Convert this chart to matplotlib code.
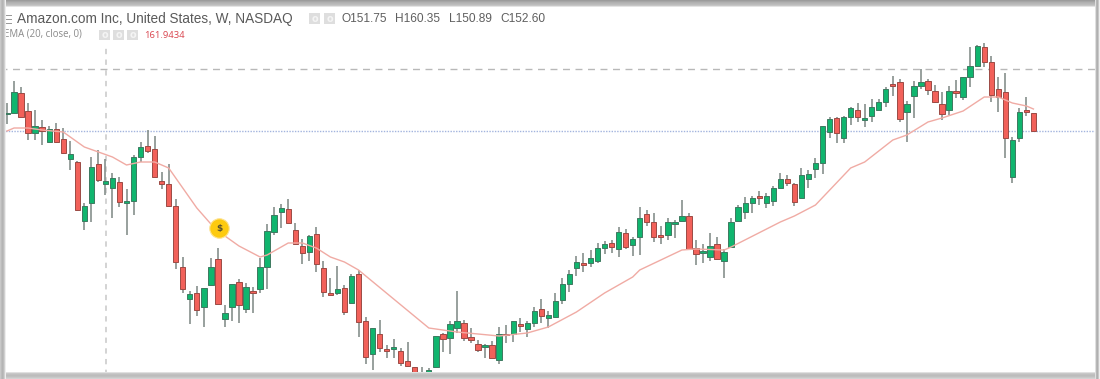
import matplotlib
matplotlib.use("Agg")
import matplotlib.pyplot as plt
from matplotlib.patches import Rectangle

# weekly candles, left to right
opens = [159.4, 159.8, 167.8, 160.6, 151.8, 154.2, 148.2, 153.4, 149.4, 141.4,
         140.2, 116.6, 123.8, 139.4, 131.4, 130.0, 132.2, 123.8, 124.6, 142.2,
         146.6, 145.4, 132.6, 131.4, 122.6, 98.2, 85.4, 87.8, 82.2, 91.0,
         101.4, 77.4, 82.2, 92.2, 81.4, 88.6, 89.4, 98.2, 112.2, 120.2,
         121.4, 113.0, 106.6, 104.2, 111.4, 97.8, 87.8, 87.8, 89.8, 83.8,
         95.4, 76.6, 63.4, 71.4, 65.6, 65.4, 64.6, 60.6, 58.2, 54.0,
         56.2, 58.2, 71.4, 69.8, 73.8, 75.8, 70.2, 67.4, 66.2, 67.0,
         61.0, 71.4, 71.4, 75.4, 73.4, 75.8, 81.4, 77.8, 78.2, 85.0,
         91.4, 97.8, 99.8, 99.8, 100.6, 105.8, 107.8, 105.4, 111.8, 107.0,
         110.2, 119.4, 116.2, 111.0, 111.0, 115.4, 116.6, 118.6, 105.8, 103.8,
         102.2, 107.4, 100.6, 106.2, 116.6, 120.2, 123.8, 126.8, 123.8, 124.6,
         129.8, 133.4, 131.4, 125.8, 133.4, 137.4, 139.8, 152.2, 157.8, 149.8,
         158.2, 161.0, 157.0, 158.6, 161.0, 164.2, 171.4, 172.2, 160.2, 166.6,
         170.6, 172.6, 168.6, 163.4, 161.0, 168.6, 166.2, 174.2, 178.6, 186.2,
         180.2, 169.4, 168.2, 134.2, 149.8, 161.0, 159.8]
closes = [159.8, 168.2, 158.2, 151.8, 154.6, 152.6, 153.4, 148.2, 143.8, 143.4,
          121.0, 122.6, 138.2, 133.0, 132.6, 133.8, 124.2, 124.6, 142.2, 146.2,
          144.6, 134.2, 131.4, 122.6, 100.2, 89.4, 87.4, 81.0, 89.8, 98.2,
          83.4, 79.8, 91.4, 83.0, 90.2, 87.8, 98.2, 112.6, 119.0, 121.8,
          115.8, 107.4, 103.8, 110.6, 99.4, 88.2, 87.0, 89.4, 80.2, 94.6,
          76.2, 62.2, 73.8, 65.8, 64.8, 66.2, 59.8, 58.6, 53.0, 54.4,
          57.0, 70.6, 69.4, 75.4, 76.6, 69.8, 69.0, 65.0, 67.0, 61.8,
          71.4, 71.0, 76.6, 74.6, 75.8, 80.6, 78.6, 79.0, 84.6, 91.4,
          95.4, 100.2, 99.0, 101.8, 105.8, 107.4, 106.2, 112.2, 106.2, 109.4,
          117.8, 116.2, 110.2, 110.2, 116.2, 116.2, 118.6, 105.4, 103.4, 104.6,
          106.6, 101.4, 104.2, 116.2, 122.2, 123.8, 125.8, 126.0, 126.6, 129.8,
          133.4, 131.8, 124.2, 135.0, 135.4, 139.8, 154.6, 157.4, 151.8, 158.2,
          161.8, 158.2, 157.8, 162.2, 164.2, 169.4, 170.6, 157.4, 163.4, 170.6,
          172.2, 169.0, 164.2, 159.4, 168.6, 167.8, 174.2, 178.6, 186.6, 180.2,
          167.0, 166.2, 149.8, 149.0, 160.2, 160.2, 152.6]
highs = [163.8, 172.6, 170.2, 163.8, 161.0, 157.0, 154.6, 155.8, 153.8, 148.6,
         140.8, 123.8, 142.2, 145.0, 141.4, 135.8, 134.2, 129.4, 143.0, 148.2,
         153.0, 150.6, 136.2, 139.4, 125.4, 102.2, 88.6, 90.6, 89.8, 101.8,
         105.8, 83.0, 91.4, 93.4, 91.8, 90.2, 101.8, 115.4, 122.2, 123.4,
         125.4, 115.8, 109.4, 111.0, 114.2, 100.6, 93.8, 98.6, 91.0, 95.4,
         97.0, 78.2, 73.8, 77.0, 67.0, 69.4, 65.8, 68.2, 58.2, 58.2,
         57.8, 70.6, 71.8, 76.6, 88.6, 77.0, 73.8, 69.0, 67.4, 68.6,
         74.2, 75.0, 76.6, 77.8, 76.6, 82.2, 85.4, 80.6, 87.8, 93.8,
         97.0, 102.6, 103.8, 105.0, 107.8, 108.6, 109.0, 114.2, 113.4, 110.2,
         122.2, 121.0, 119.8, 114.6, 117.8, 117.0, 125.0, 119.8, 109.0, 107.4,
         111.8, 110.2, 105.4, 117.8, 123.0, 126.2, 126.6, 128.6, 127.8, 130.6,
         135.8, 135.0, 131.8, 137.8, 137.0, 141.8, 154.6, 158.2, 158.2, 158.6,
         162.2, 163.8, 163.4, 165.4, 165.4, 170.2, 174.6, 173.4, 164.6, 172.6,
         177.4, 173.4, 171.0, 168.2, 170.6, 173.0, 174.2, 186.2, 187.0, 187.8,
         182.6, 174.2, 175.8, 150.2, 161.8, 166.2, 159.8]
lows = [155.4, 159.8, 158.2, 149.0, 149.0, 147.0, 147.8, 147.8, 143.4, 137.0,
        120.6, 113.0, 116.2, 132.2, 127.0, 117.8, 122.2, 111.0, 119.0, 140.2,
        143.8, 134.2, 129.4, 122.2, 97.4, 87.8, 75.4, 78.6, 74.2, 91.0,
        83.4, 74.2, 76.6, 75.8, 79.8, 79.8, 87.8, 89.4, 111.0, 113.8,
        115.8, 107.4, 99.4, 100.6, 96.2, 86.2, 87.0, 87.0, 79.0, 83.8,
        70.2, 59.4, 57.0, 64.2, 61.8, 61.8, 58.6, 58.2, 49.0, 49.0,
        54.6, 58.2, 64.2, 63.4, 71.8, 68.6, 67.8, 64.2, 61.8, 61.8,
        59.4, 67.8, 68.2, 72.2, 70.2, 74.2, 75.8, 73.8, 78.2, 83.4,
        88.2, 94.6, 96.2, 98.2, 99.8, 103.4, 103.8, 102.2, 105.4, 102.6,
        103.0, 114.6, 108.2, 107.4, 109.0, 109.8, 116.6, 105.0, 99.0, 99.8,
        100.6, 101.0, 93.8, 105.8, 116.6, 117.4, 119.8, 123.0, 121.8, 122.6,
        129.8, 130.6, 122.6, 125.8, 129.8, 133.8, 135.4, 149.8, 147.8, 147.8,
        155.0, 156.2, 154.2, 156.2, 161.0, 162.2, 166.6, 156.2, 148.2, 157.8,
        169.4, 167.0, 163.8, 157.0, 159.0, 165.8, 165.0, 170.2, 178.6, 178.2,
        164.2, 160.2, 141.8, 131.8, 148.2, 158.6, 152.6]

# 20 week EMA, read at these candles only
ema_idx = [0, 1, 3, 5, 8, 10, 11, 13, 15, 17, 19, 21, 23, 25, 27, 29, 31, 33, 36, 37,
           40, 42, 44, 46, 48, 50, 60, 64, 70, 74, 77, 81, 85, 89, 90, 96, 98, 102, 103,
           110, 112, 115, 120, 122, 126, 128, 131, 133, 136, 139, 141, 143, 145, 146]
ema_values = [152.6, 153.8, 153.8, 153.0, 152.2, 148.2, 146.2, 144.2, 142.2, 139.0,
              140.2, 140.2, 137.8, 129.8, 121.8, 115.4, 110.6, 106.6, 102.2, 103.0,
              107.8, 107.8, 105.8, 102.2, 100.2, 97.0, 73.8, 72.2, 70.6, 71.8,
              74.2, 80.2, 87.8, 94.2, 97.0, 105.0, 105.4, 105.0, 106.2,
              116.2, 118.6, 123.0, 137.8, 140.2, 149.0, 151.0, 156.2, 157.8, 160.6,
              166.2, 166.2, 163.8, 162.6, 161.4]

last_close = 152.60
resistance = 177.4
marker_week = 30.2
marker_price = 113.8
cursor_week = 14.08

title = "Amazon.com Inc, United States, W, NASDAQ"
ohlc_labels = ["O151.75", "H160.35", "L150.89", "C152.60"]
ohlc_x = [342, 395, 449, 500]
ema_label = "EMA (20, close, 0)"
ema_text = "161.9434"

UP = "#10b56e"
DOWN = "#f2615a"
WICK = "#86908c"
W, H = 1100, 379

fig = plt.figure(figsize=(W / 100, H / 100), dpi=100)
ax = fig.add_axes([0, 0, 1, 1])
ax.set_xlim(-0.996, 155.47)
ax.set_ylim(53.4, 205)
ax.axis("off")

ax.axhline(resistance, color="#b8b8b8", lw=1, ls=(0, (5, 4)), zorder=1)
ax.axhline(last_close, color="#a3b4de", lw=1, ls=(0, (1, 1)), zorder=1)
ax.axvline(cursor_week, color="#c8c8c8", lw=1.1, ls=(0, (3.5, 3.5)), ymin=0.01, ymax=0.885, zorder=1)

for i in range(len(opens)):
    up = closes[i] >= opens[i]
    ax.vlines(i, lows[i], highs[i], color=WICK, lw=1.2, zorder=2)
    ax.bar(i, abs(closes[i] - opens[i]), bottom=min(opens[i], closes[i]), width=0.76,
           color=UP if up else DOWN, edgecolor="#3d7a60" if up else "#9c4a44", lw=0.7, zorder=3)

ax.plot(ema_idx, ema_values, color="#f0aba4", lw=1.0, zorder=4)
ax.plot([marker_week], [marker_price], "o", ms=14, color="#fdca10", mec="#fde28f", mew=0.8, zorder=5)
ax.text(marker_week, marker_price, "$", ha="center", va="center", fontsize=6.5, color="#5a5230",
        fontweight="bold", zorder=6)


def head(x, y, s, size, color, font="Open Sans"):
    fig.text(x / W, 1 - y / H, s, fontsize=size, color=color, ha="left", va="center",
             family=font, zorder=10)


def box(x, y, w, h, color, z=9):
    fig.add_artist(Rectangle((x / W, 1 - (y + h) / H), w / W, h / H, transform=fig.transFigure,
                             fc=color, ec="none", zorder=z))


head(17, 19, title, 9.8, "#5a5a5a", "Liberation Sans")
for x, s in zip(ohlc_x, ohlc_labels):
    head(x, 19, s, 8.6, "#5f5f5f", "Liberation Sans")
head(4, 34.5, ema_label, 6.9, "#8a8a8a")
head(144, 35, ema_text, 6.8, "#d9454e")

# legend buttons
for x, y in [(309, 13.5), (324, 13.5), (99, 30), (113, 30), (127, 30)]:
    box(x, y, 11, 10, "#dedede")
    fig.text((x + 5.5) / W, 1 - (y + 5) / H, "o", fontsize=7, color="#f4f4f4", ha="center", va="center",
             fontweight="bold", zorder=10)

# hamburger next to the title
for y in [15, 19, 23]:
    box(6, y, 6, 1, "#9a9a9a")

# grey bevel round the white panel
top_band = ["#9c9c9c", "#a6a6a6", "#b0b0b0", "#b6b6b6", "#bcbcbc", "#c6c6c6", "#e4e4e4"]
for k, color in enumerate(top_band):
    box(0, k, W, 1.1, color, 11)
bottom_band = ["#e0e0e0", "#c8c8c8", "#c0c0c0", "#bcbcbc", "#c0c0c0", "#c8c8c8", "#d2d2d2"]
for k, color in enumerate(bottom_band):
    box(0, 372 + k, W, 1.1, color, 11)
left_band = ["#c8c8c8", "#bcbcbc", "#b4b4b4", "#bcbcbc", "#d0d0d0", "#eeeeee"]
for k, color in enumerate(left_band):
    box(k, 0, 1.1, H, color, 11)
right_band = ["#e0e0e0", "#b8b8b8", "#b0b0b0", "#c8c8c8", "#eeeeee"]
for k, color in enumerate(right_band):
    box(1095 + k, 0, 1.1, H, color, 11)

fig.savefig("out.png", dpi=100)
